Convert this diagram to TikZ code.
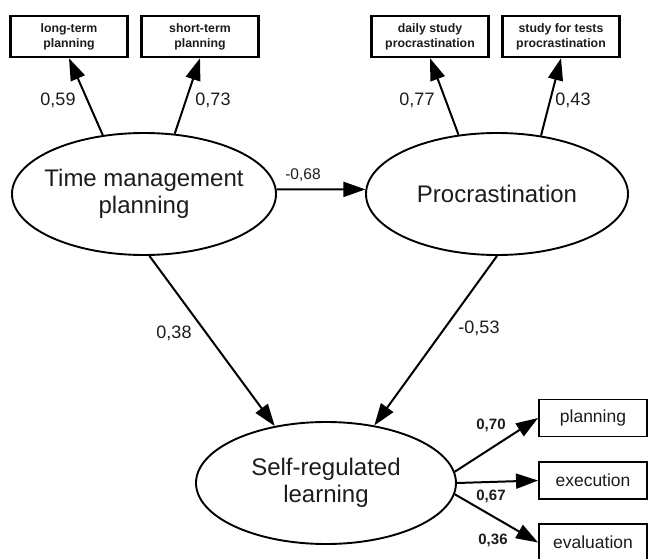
\documentclass[tikz,border=0pt]{standalone}
\usepackage{fontspec}
\setmainfont{Liberation Sans}
\usetikzlibrary{shapes.geometric,arrows.meta}
\definecolor{txt}{HTML}{1C1C1C}
\tikzset{
  ell/.style={draw, line width=1.9pt, ellipse, inner sep=0pt},
  elltext/.style={align=center, text=txt, font=\fontsize{24}{27}\selectfont},
  topbox/.style={draw, line width=2.5pt, minimum width=117pt, minimum height=41pt, inner sep=0pt,
     align=center, text=txt, font=\bfseries\fontsize{12.3}{15}\selectfont},
  sidebox/.style={draw, line width=1.9pt, minimum width=108pt, minimum height=37pt, inner sep=0pt,
     text=txt, font=\fontsize{17.5}{20}\selectfont},
  coef/.style={text=txt, inner sep=0pt, font=\fontsize{18}{20}\selectfont},
  coefsmall/.style={text=txt, inner sep=0pt, font=\fontsize{15.5}{17}\selectfont},
  coefside/.style={text=txt, inner sep=0pt, font=\bfseries\fontsize{15}{17}\selectfont},
  arr/.style={line width=2pt, -{Triangle[length=22pt,width=15pt]}},
}
\begin{document}
\begin{tikzpicture}[x=1pt,y=-1pt]
\useasboundingbox[fill=white] (0,0) rectangle (649,559);

% top indicator boxes
\node[topbox] (lt) at (69,36.5) {long-term\\planning};
\node[topbox] (st) at (200,36.5) {short-term\\planning};
\node[topbox] (ds) at (430,36.5) {daily study\\procrastination};
\node[topbox] (sf) at (561,36.5) {study for tests\\procrastination};

% latent variables
\node[ell, minimum width=264pt, minimum height=122pt] (tm) at (144,194) {};
\node[elltext] (tmt) at (tm) {Time management\\planning};
\node[ell, minimum width=262pt, minimum height=122pt] (pr) at (497,194) {};
\node[elltext] (prt) at (pr) {Procrastination};
\node[ell, minimum width=260pt, minimum height=122pt] (srl) at (326,483) {};
\node[elltext] (srlt) at (srl) {Self-regulated\\learning};

% side indicator boxes
\node[sidebox] (pl) at (593,418) {planning};
\node[sidebox] (ex) at (593,480.5) {execution};
\node[sidebox] (ev) at (593,542.5) {evaluation};

% connectors
\draw[arr] (tm.125.6) -- (lt.south);
\draw[arr] (tm.63.4) -- (st.south);
\draw[arr] (pr.123.3) -- (ds.south);
\draw[arr] (pr.53.1) -- (sf.south);
\draw[arr] (tm.2) -- (pr.178);
\draw[arr] (tm.-85.3) -- (srl.132.4);
\draw[arr] (pr.-90) -- (srl.50.9);
\draw[arr] (srl.5) -- (pl.west);
\draw[arr] (srl.0) -- (ex.west);
\draw[arr] (srl.-5) -- (ev.west);

% coefficients
\node[coef] (c1) at (58,100) {0,59};
\node[coef] (c2) at (213,100) {0,73};
\node[coef] (c3) at (417,100) {0,77};
\node[coef] (c4) at (573,100) {0,43};
\node[coefsmall] (c5) at (303,175) {-0,68};
\node[coef] (c6) at (174,333) {0,38};
\node[coef] (c7) at (479,328) {-0,53};
\node[coefside] (c8) at (491,425) {0,70};
\node[coefside] (c9) at (491,496) {0,67};
\node[coefside] (c10) at (493,540) {0,36};
\end{tikzpicture}
\end{document}
